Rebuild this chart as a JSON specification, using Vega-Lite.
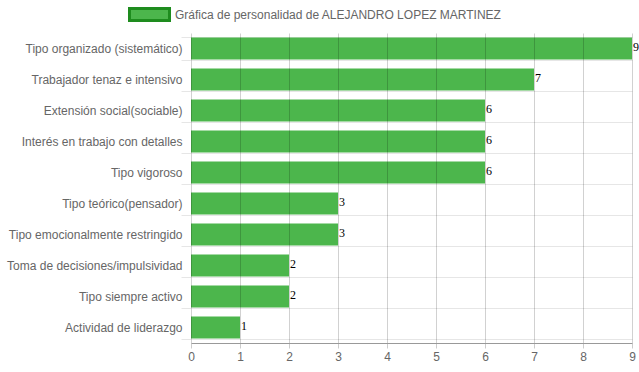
{
  "$schema": "https://vega.github.io/schema/vega-lite/v6.json",
  "width": 441,
  "height": 310,
  "autosize": {"type": "none"},
  "padding": {"left": 191, "top": 33, "right": 7, "bottom": 29},
  "background": "white",
  "config": {
    "font": "Liberation Sans",
    "view": {"stroke": null},
    "axis": {"labelFont": "Liberation Sans", "labelFontSize": 12, "labelColor": "#666666"}
  },
  "data": {
    "values": [
      {"rasgo": "Tipo organizado (sistemático)", "valor": 9, "serie": "Gráfica de personalidad de ALEJANDRO LOPEZ MARTINEZ"},
      {"rasgo": "Trabajador tenaz e intensivo", "valor": 7, "serie": "Gráfica de personalidad de ALEJANDRO LOPEZ MARTINEZ"},
      {"rasgo": "Extensión social(sociable)", "valor": 6, "serie": "Gráfica de personalidad de ALEJANDRO LOPEZ MARTINEZ"},
      {"rasgo": "Interés en trabajo con detalles", "valor": 6, "serie": "Gráfica de personalidad de ALEJANDRO LOPEZ MARTINEZ"},
      {"rasgo": "Tipo vigoroso", "valor": 6, "serie": "Gráfica de personalidad de ALEJANDRO LOPEZ MARTINEZ"},
      {"rasgo": "Tipo teórico(pensador)", "valor": 3, "serie": "Gráfica de personalidad de ALEJANDRO LOPEZ MARTINEZ"},
      {"rasgo": "Tipo emocionalmente restringido", "valor": 3, "serie": "Gráfica de personalidad de ALEJANDRO LOPEZ MARTINEZ"},
      {"rasgo": "Toma de decisiones/impulsividad", "valor": 2, "serie": "Gráfica de personalidad de ALEJANDRO LOPEZ MARTINEZ"},
      {"rasgo": "Tipo siempre activo", "valor": 2, "serie": "Gráfica de personalidad de ALEJANDRO LOPEZ MARTINEZ"},
      {"rasgo": "Actividad de liderazgo", "valor": 1, "serie": "Gráfica de personalidad de ALEJANDRO LOPEZ MARTINEZ"}
    ]
  },
  "encoding": {
    "y": {
      "field": "rasgo", "type": "nominal", "sort": null, "title": null,
      "scale": {"paddingInner": 0.29, "paddingOuter": 0.145},
      "axis": {
        "tickBand": "extent", "grid": true, "gridColor": "#e6e6e6", "tickColor": "#e6e6e6",
        "tickSize": 10, "labelPadding": -1, "domain": false
      }
    },
    "x": {
      "field": "valor", "type": "quantitative", "title": null,
      "scale": {"domain": [0, 9], "nice": false},
      "axis": {
        "values": [0,1,2,3,4,5,6,7,8,9], "grid": true, "gridColor": "#000000", "gridOpacity": 0.18,
        "domainColor": "#999999", "tickColor": "#cccccc", "tickSize": 5, "labelPadding": 3,
        "labelFlush": false, "zindex": 1
      }
    }
  },
  "layer": [
    {
      "mark": {"type": "bar", "strokeWidth": 0},
      "encoding": {
        "color": {
          "field": "serie", "type": "nominal", "title": null,
          "scale": {"range": ["#4cb64c"]},
          "legend": {
            "orient": "none", "legendX": -63, "legendY": -40,
            "symbolType": "M-1,-0.3H1V0.3H-1Z", "symbolSize": 1600,
            "symbolStrokeColor": "#1e8c1e", "symbolStrokeWidth": 3, "symbolOpacity": 1,
            "labelFont": "Liberation Sans", "labelFontSize": 12, "labelColor": "#666666",
            "labelOffset": 4, "labelLimit": 500
          }
        }
      }
    },
    {
      "mark": {"type": "text", "align": "left", "baseline": "middle", "dx": 1, "dy": -2, "font": "Liberation Serif", "fontSize": 12, "color": "#000000"},
      "encoding": {"text": {"field": "valor", "type": "quantitative"}}
    }
  ]
}
